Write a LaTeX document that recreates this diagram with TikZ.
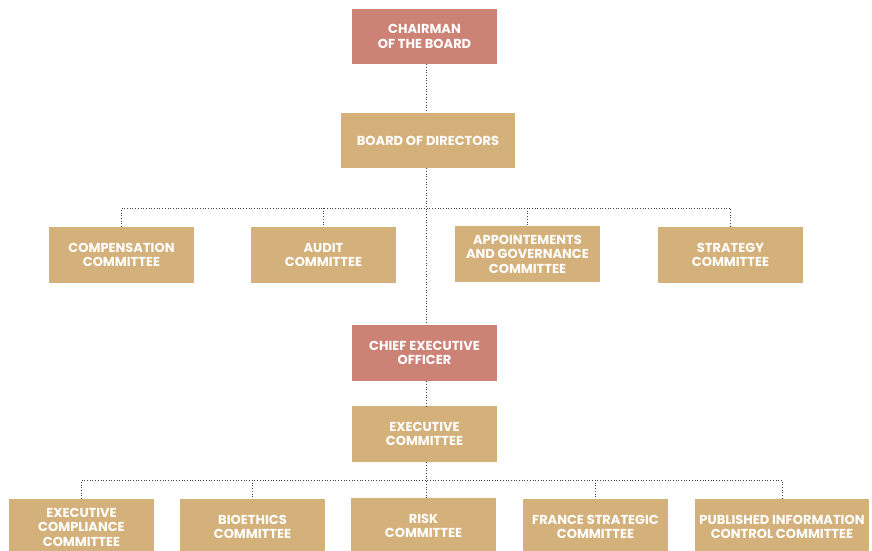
\documentclass[tikz,border=0pt]{standalone}
\usepackage{fontspec}
\setmainfont{Poppins}
\definecolor{redbox}{HTML}{CD8276}
\definecolor{tanbox}{HTML}{D4B07A}
\definecolor{linec}{HTML}{444444}
\begin{document}
\begin{tikzpicture}[x=1pt,y=-1pt,
  box/.style={fill=tanbox, text=white, minimum width=145pt, minimum height=56pt, inner sep=0pt,
    align=center, font=\fontsize{13}{14.5}\selectfont\bfseries},
  redb/.style={box, fill=redbox},
  conn/.style={draw=linec, dotted, line width=0.7pt}]
\useasboundingbox (0,0) rectangle (872,550);
\clip (0,0) rectangle (872,550);
\coordinate (spine) at (426,0);
\node[redb, minimum height=55pt] (chair) at (424.5,36.5) {CHAIRMAN\\OF THE BOARD};
\node[box, minimum width=174pt, minimum height=55pt] (board) at (428,140.5) {BOARD OF DIRECTORS};
\node[box] (comp) at (121.5,255) {COMPENSATION\\COMMITTEE};
\node[box] (audit) at (323.5,255) {AUDIT\\COMMITTEE};
\node[box] (appt) at (527.5,254) {APPOINTEMENTS\\AND GOVERNANCE\\COMMITTEE};
\node[box] (strat) at (730.5,255) {STRATEGY\\COMMITTEE};
\node[redb] (ceo) at (424.5,353) {CHIEF EXECUTIVE\\OFFICER};
\node[box] (exec) at (424.5,434) {EXECUTIVE\\COMMITTEE};
\node[box] (ecc) at (81.5,527) {EXECUTIVE\\COMPLIANCE\\COMMITTEE};
\node[box] (bio) at (252.5,527) {BIOETHICS\\COMMITTEE};
\node[box] (risk) at (423.5,526) {RISK\\COMMITTEE};
\node[box] (fsc) at (595.5,527) {FRANCE STRATEGIC\\COMMITTEE};
\node[box, minimum width=174pt] (pic) at (782,527) {PUBLISHED INFORMATION\\CONTROL COMMITTEE};
\coordinate (bus1) at (0,208);
\coordinate (bus2) at (0,480);
% spine
\draw[conn] (chair.south -| spine) -- (board.north -| spine);
\draw[conn] (board.south -| spine) -- (ceo.north -| spine);
\draw[conn] (ceo.south -| spine) -- (exec.north -| spine);
\draw[conn] (exec.south -| spine) -- (risk.north -| spine);
% upper bus
\draw[conn] (comp.north) -- (comp.north |- bus1) -- (strat.north |- bus1) -- (strat.north);
\draw[conn] (audit.north |- bus1) -- (audit.north);
\draw[conn] (appt.north |- bus1) -- (appt.north);
% lower bus
\draw[conn] (ecc.north) -- (ecc.north |- bus2) -- (pic.north |- bus2) -- (pic.north);
\draw[conn] (bio.north |- bus2) -- (bio.north);
\draw[conn] (fsc.north |- bus2) -- (fsc.north);
\end{tikzpicture}
\end{document}
